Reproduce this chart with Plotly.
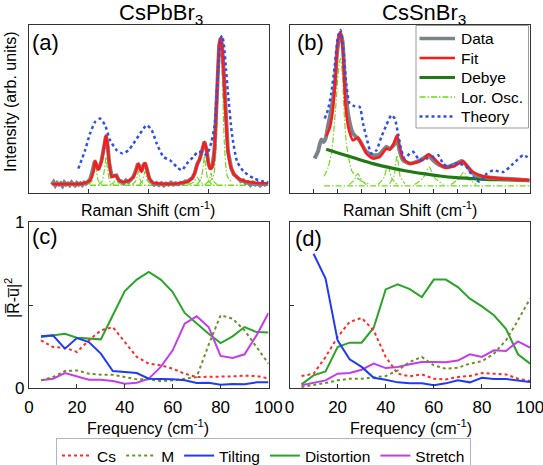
import plotly.graph_objects as go

FONT = "Arial, Liberation Sans, sans-serif"

# ---------------- data ----------------
# (a) CsPbBr3 Raman spectrum (Raman shift, normalised intensity)
pb_data = [(19, 0.05), (20.5, 0.065), (22, 0.045), (23.5, 0.06), (25, 0.05), (26.5, 0.058),
           (28, 0.042), (29.5, 0.062), (31, 0.05), (32.5, 0.057), (34, 0.047), (35.5, 0.063),
           (37, 0.052), (38.5, 0.045), (40, 0.06), (41.5, 0.05), (43, 0.058), (44.5, 0.048),
           (46, 0.062), (47.5, 0.055), (49, 0.065), (51, 0.08), (53, 0.13), (55, 0.19),
           (56.5, 0.16), (58, 0.14), (60.5, 0.19), (62.5, 0.27), (64.3, 0.34), (65.5, 0.29),
           (67, 0.18), (69, 0.1), (71, 0.1), (73, 0.105), (75, 0.075), (77, 0.07), (79, 0.058),
           (81, 0.075), (83, 0.065), (85, 0.08), (87, 0.095), (89, 0.13), (91, 0.175),
           (92.8, 0.145), (94, 0.13), (95.5, 0.165), (97, 0.178), (98.5, 0.14), (100.5, 0.085),
           (102.5, 0.065), (104.5, 0.05), (106.5, 0.06), (108.5, 0.048), (110.5, 0.058),
           (112.5, 0.045), (114.5, 0.056), (116.5, 0.05), (118.5, 0.062), (120.5, 0.05),
           (122.5, 0.058), (124.5, 0.052), (126.5, 0.06), (128.5, 0.058), (130.5, 0.07),
           (132.5, 0.068), (134.5, 0.08), (136.5, 0.09), (138.5, 0.12), (140.4, 0.17),
           (142.5, 0.2), (144.5, 0.25), (146.5, 0.305), (148.2, 0.26), (150, 0.17),
           (151.5, 0.143), (153.2, 0.16), (154.8, 0.25), (156.5, 0.5), (157.9, 0.76),
           (158.8, 0.88), (160, 0.92), (161, 0.89), (162, 0.8), (163.3, 0.6), (164.7, 0.405),
           (166.1, 0.25), (168.9, 0.147), (171, 0.11), (173, 0.1), (175, 0.085), (177, 0.07),
           (179, 0.075), (181, 0.06), (183, 0.065), (185, 0.048), (187, 0.062), (189, 0.05),
           (191, 0.058), (193, 0.045), (195, 0.06), (197, 0.05), (199, 0.057)]

pb_fit = [(19, 0.052), (30, 0.054), (45, 0.056), (51, 0.076), (53.8, 0.125), (55.2, 0.191),
          (56.5, 0.165), (57.9, 0.139), (60.7, 0.195), (62.7, 0.274), (64.3, 0.344),
          (65.5, 0.294), (67.1, 0.175), (69.1, 0.095), (70.8, 0.101), (72.7, 0.105),
          (74.7, 0.08), (77.4, 0.066), (83, 0.072), (87.2, 0.095), (90, 0.145), (91.4, 0.175),
          (92.8, 0.145), (93.9, 0.125), (95.5, 0.165), (96.9, 0.179), (98.3, 0.145),
          (100.6, 0.085), (103.9, 0.06), (109.5, 0.056), (117.8, 0.054), (126.2, 0.06),
          (131.8, 0.066), (135.9, 0.085), (138.5, 0.12), (140.4, 0.17), (142.5, 0.2),
          (144.5, 0.25), (146.5, 0.305), (148.2, 0.26), (150, 0.17), (151.5, 0.143),
          (153.2, 0.16), (154.8, 0.25), (156.5, 0.504), (157.9, 0.762), (158.8, 0.881),
          (160, 0.924), (161, 0.89), (162, 0.80), (163.3, 0.60), (164.7, 0.405), (166.1, 0.25),
          (168.9, 0.147), (173, 0.097), (180, 0.071), (190, 0.06), (200, 0.058)]

pb_theory = [(41.2, 0.145), (46.8, 0.254), (51.0, 0.354), (55.2, 0.423), (59.3, 0.443),
             (63.5, 0.404), (67.7, 0.314), (73.3, 0.254), (78.3, 0.235), (83.0, 0.254),
             (87.2, 0.294), (92.8, 0.354), (98.3, 0.404), (102.5, 0.374), (106.7, 0.294),
             (112.3, 0.215), (117.8, 0.195), (123.4, 0.155), (127.6, 0.135), (131.8, 0.175),
             (137.3, 0.215), (141, 0.245), (145, 0.24), (148.2, 0.226), (150.5, 0.26),
             (152.4, 0.305), (155.1, 0.405), (156.5, 0.56), (158.5, 0.80), (160.2, 0.92),
             (161.3, 0.936), (162.8, 0.88), (164.5, 0.74), (166.1, 0.60), (169.6, 0.345),
             (173.8, 0.187), (179.4, 0.127), (187.8, 0.087), (195, 0.07), (200, 0.062)]

pb_lor_base = [(51, 0.046), (200, 0.046)]
pb_lor = [
    [(50, 0.05), (52.5, 0.07), (54, 0.12), (55.2, 0.17), (56.5, 0.12), (58, 0.07), (61, 0.05)],
    [(58, 0.05), (61, 0.07), (63, 0.14), (64.3, 0.215), (65.6, 0.14), (67.5, 0.07), (71, 0.05)],
    [(68, 0.05), (71, 0.065), (72.5, 0.085), (74, 0.065), (77, 0.05)],
    [(86, 0.05), (89.5, 0.075), (91.4, 0.13), (93, 0.075), (96, 0.05)],
    [(92, 0.05), (95, 0.075), (96.9, 0.13), (98.7, 0.075), (102, 0.05)],
    [(133, 0.05), (137.5, 0.065), (140.4, 0.095), (143, 0.065), (147, 0.05)],
    [(140, 0.05), (143.5, 0.08), (145.5, 0.16), (146.5, 0.22), (147.5, 0.16), (149.5, 0.08), (153, 0.05)],
    [(147, 0.05), (150.5, 0.075), (152, 0.12), (153.5, 0.075), (157, 0.05)],
    [(150, 0.06), (154, 0.1), (156.5, 0.3), (158.3, 0.7), (159.8, 0.87), (161.3, 0.7), (163.1, 0.3), (165.6, 0.1), (170, 0.06)],
]

# (b) CsSnBr3 Raman spectrum
sn_data = [(26, 0.205), (29.5, 0.245), (33, 0.318), (35.4, 0.304), (37.5, 0.324), (39.9, 0.394),
           (43.4, 0.493), (46.9, 0.632), (49.7, 0.851), (53, 0.95), (55.2, 0.90), (57.3, 0.692),
           (60.8, 0.473), (66, 0.354), (71.2, 0.324), (74.7, 0.294), (79.9, 0.245), (86.8, 0.225),
           (93.8, 0.231), (100.7, 0.274), (104.2, 0.264), (109.4, 0.294), (111.8, 0.334),
           (113.9, 0.264), (118.1, 0.195), (125, 0.175), (131.9, 0.185), (138.9, 0.205),
           (144.1, 0.225), (149.3, 0.195), (156.3, 0.165), (163.2, 0.155), (173.6, 0.175),
           (178.8, 0.191), (184, 0.165), (191, 0.115), (201.4, 0.095), (225.7, 0.085),
           (249.3, 0.076)]

sn_fit = [(38.2, 0.338), (41.7, 0.384), (45.1, 0.493), (47.9, 0.692), (50.3, 0.911), (53.1, 0.96),
          (55.6, 0.831), (58.3, 0.513), (61.8, 0.374), (66.0, 0.314), (71.2, 0.330), (74.7, 0.294),
          (79.9, 0.235), (86.8, 0.205), (93.8, 0.215), (100.7, 0.264), (104.2, 0.258),
          (108.3, 0.294), (111.8, 0.344), (114.6, 0.274), (118.1, 0.205), (125.0, 0.175),
          (131.9, 0.181), (138.9, 0.199), (144.6, 0.23), (149.3, 0.211), (156.3, 0.171),
          (162, 0.15), (171.9, 0.161), (180.5, 0.19), (184.0, 0.165), (191.0, 0.125),
          (201.4, 0.099), (225.7, 0.083), (249.3, 0.076)]

sn_debye = [(38.2, 0.260), (52.1, 0.235), (69.4, 0.205), (86.8, 0.175), (104.2, 0.151),
            (121.5, 0.131), (138.9, 0.115), (156.3, 0.101), (173.6, 0.091), (191.0, 0.085),
            (208.3, 0.080), (225.7, 0.078), (249.3, 0.074)]

sn_theory = [(36.5, 0.443), (39.9, 0.493), (43.4, 0.592), (46.9, 0.751), (50.3, 0.930),
             (53.1, 0.970), (56.3, 0.831), (59.0, 0.652), (62.5, 0.533), (67.7, 0.517),
             (72.9, 0.513), (76.4, 0.414), (79.9, 0.334), (85.1, 0.235), (90.3, 0.254),
             (95.5, 0.334), (100.7, 0.404), (105.9, 0.463), (109.4, 0.443), (112.8, 0.354),
             (116.3, 0.254), (119.8, 0.205), (125.0, 0.235), (128.5, 0.245), (135.4, 0.195),
             (142.4, 0.205), (149.3, 0.215), (154.5, 0.225), (159.7, 0.175), (164.9, 0.155),
             (171.9, 0.175), (177.1, 0.175), (184.0, 0.155), (191.0, 0.095), (197.9, 0.066),
             (204.9, 0.115), (211.8, 0.135), (222.2, 0.125), (232.6, 0.175), (243.1, 0.225),
             (249.3, 0.205)]

sn_lor_base = [(36, 0.042), (250, 0.042)]
sn_lor = [
    [(36, 0.1), (40, 0.15), (44, 0.25), (47.9, 0.5), (51.4, 0.76), (53, 0.8), (54.8, 0.72),
     (56.6, 0.5), (59, 0.3), (61.8, 0.2), (65, 0.13), (68.7, 0.1), (75, 0.07), (82, 0.055)],
    [(62, 0.05), (67, 0.075), (71, 0.115), (75, 0.075), (80, 0.05)],
    [(92, 0.05), (98, 0.09), (102.4, 0.165), (106, 0.09), (112, 0.05)],
    [(104, 0.055), (108.5, 0.1), (111.8, 0.225), (115, 0.1), (120, 0.055)],
    [(130, 0.05), (139, 0.09), (145, 0.155), (151, 0.09), (160, 0.05)],
    [(168, 0.05), (176, 0.085), (181, 0.125), (186, 0.085), (194, 0.05)],
]

# (c) / (d) projections |R-u|^2 versus frequency
freq = [5, 10, 15, 20, 25, 30, 35, 40, 45, 50, 55, 60, 65, 70, 75, 80, 85, 90, 95, 100]
freq_tilt_d = [10, 15, 20, 25, 30, 35, 40, 45, 50, 55, 60, 65, 70, 75, 80, 85, 90, 95, 100]

cs_c = [0.287, 0.247, 0.243, 0.217, 0.287, 0.347, 0.367, 0.277, 0.187, 0.147,
        0.137, 0.116, 0.086, 0.066, 0.066, 0.070, 0.070, 0.074, 0.072, 0.058]
m_c = [0.046, 0.066, 0.102, 0.106, 0.086, 0.080, 0.080, 0.066, 0.052, 0.052,
       0.042, 0.046, 0.056, 0.066, 0.26, 0.438, 0.418, 0.347, 0.247, 0.147]
tilt_c = [0.311, 0.317, 0.237, 0.301, 0.277, 0.207, 0.102, 0.096, 0.090, 0.056,
          0.056, 0.052, 0.046, 0.030, 0.032, 0.020, 0.024, 0.022, 0.034, 0.034]
dist_c = [0.307, 0.315, 0.327, 0.303, 0.297, 0.293, 0.438, 0.584, 0.653, 0.699,
          0.653, 0.578, 0.452, 0.388, 0.327, 0.271, 0.311, 0.367, 0.337, 0.335]
str_c = [0.046, 0.056, 0.090, 0.070, 0.050, 0.050, 0.042, 0.026, 0.032, 0.056,
         0.127, 0.227, 0.388, 0.432, 0.367, 0.193, 0.181, 0.203, 0.317, 0.452]

cs_d = [0.072, 0.086, 0.187, 0.307, 0.398, 0.422, 0.347, 0.187, 0.086, 0.070,
        0.082, 0.056, 0.052, 0.066, 0.072, 0.090, 0.086, 0.082, 0.056, 0.042]
m_d = [0.006, 0.016, 0.030, 0.046, 0.056, 0.056, 0.066, 0.072, 0.106, 0.157,
       0.187, 0.137, 0.116, 0.122, 0.147, 0.161, 0.207, 0.287, 0.408, 0.538]
tilt_d = [0.809, 0.659, 0.287, 0.173, 0.127, 0.062, 0.050, 0.034, 0.028, 0.028,
          0.016, 0.028, 0.046, 0.034, 0.062, 0.054, 0.054, 0.044, 0.036]
dist_d = [0.022, 0.076, 0.100, 0.247, 0.273, 0.273, 0.363, 0.594, 0.624, 0.596,
          0.548, 0.653, 0.653, 0.608, 0.538, 0.492, 0.438, 0.357, 0.203, 0.147]
str_d = [0.016, 0.030, 0.046, 0.086, 0.090, 0.110, 0.147, 0.120, 0.127, 0.143,
         0.157, 0.157, 0.155, 0.165, 0.203, 0.187, 0.227, 0.223, 0.281, 0.243]

titles = ["CsPbBr<sub>3</sub>", "CsSnBr<sub>3</sub>"]
panel_labels = ["(a)", "(b)", "(c)", "(d)"]
spectrum_names = ["Data", "Fit", "Debye", "Lor. Osc.", "Theory"]
bottom_names = ["Cs", "M", "Tilting", "Distortion", "Stretch"]

# ---------------- styling ----------------
C_DATA = "#7a8388"
C_FIT = "#ff1a1a"
C_DEBYE = "#1f7a14"
C_LOR = "#72d81e"
C_THEORY = "#2f4fe8"
C_CS = "#ff2a2a"
C_M = "#6b8f2a"
C_TILT = "#1f3cf2"
C_DIST = "#2aa52a"
C_STR = "#c53cf0"

W, H = 543, 465


def px(x):
    return x / W


def py(y):
    return 1 - y / H


def xy(pairs):
    return [p[0] for p in pairs], [p[1] for p in pairs]


fig = go.Figure()


def add(pairs, xa, ya, color, width, dash="solid", name=None, legend=None,
        rank=None, show=False, spline=True):
    x, y = xy(pairs)
    fig.add_trace(go.Scatter(
        x=x, y=y, xaxis=xa, yaxis=ya, mode="lines",
        line=dict(color=color, width=width, dash=dash,
                  shape="spline" if spline else "linear", smoothing=0.6),
        name=name, showlegend=show, legend=legend,
        legendrank=rank if rank is not None else 1000,
        hoverinfo="skip"))


LOR_DASH = "6px,2px,1.5px,2px"

# panel (a)
add(pb_lor_base, "x", "y", C_LOR, 1.3, LOR_DASH)
for comp in pb_lor:
    add(comp, "x", "y", C_LOR, 1.2, LOR_DASH)
add(pb_data, "x", "y", C_DATA, 4, spline=False)
add(pb_fit, "x", "y", C_FIT, 2.6)
add(pb_theory, "x", "y", C_THEORY, 2.5, "dot")

# panel (b)
add(sn_lor_base, "x2", "y2", C_LOR, 1.3, LOR_DASH)
for comp in sn_lor:
    add(comp, "x2", "y2", C_LOR, 1.2, LOR_DASH)
add(sn_debye, "x2", "y2", C_DEBYE, 3.2)
add(sn_data, "x2", "y2", C_DATA, 4)
add(sn_fit, "x2", "y2", C_FIT, 2.6)
add(sn_theory, "x2", "y2", C_THEORY, 2.5, "dot")

# panels (c) and (d)
series_c = [cs_c, m_c, tilt_c, dist_c, str_c]
series_d = [cs_d, m_d, tilt_d, dist_d, str_d]
colors = [C_CS, C_M, C_TILT, C_DIST, C_STR]
dashes = ["3px,3px", "3px,3px", "solid", "solid", "solid"]
order = [3, 4, 0, 1, 2]  # drawing order
for i in order:
    add(list(zip(freq, series_c[i])), "x3", "y3", colors[i], 2, dashes[i],
        name=bottom_names[i], legend="legend", rank=i + 1, show=True, spline=False)
for i in order:
    fx = freq_tilt_d if i == 2 else freq
    add(list(zip(fx, series_d[i])), "x4", "y4", colors[i], 2, dashes[i], spline=False)

# ---------------- axes ----------------
AX = "#333333"
dom_xa = [px(29), px(268.5)]
dom_xb = [px(289.5), px(530)]
dom_top = [py(193), py(25)]
dom_bot = [py(388), py(222)]

common = dict(showline=True, mirror=True, linecolor=AX, linewidth=1.2, showgrid=False,
              zeroline=False, ticks="inside", tickcolor=AX, ticklen=4,
              ticklabeloverflow="allow",
              tickfont=dict(family=FONT, size=17, color="black"))

fig.update_layout(
    xaxis=dict(common, domain=dom_xa, range=[0, 200], tickvals=[50, 100, 150],
               showticklabels=False, anchor="y"),
    yaxis=dict(common, domain=dom_top, range=[0, 1], ticks="", showticklabels=False,
               anchor="x"),
    xaxis2=dict(common, domain=dom_xb, range=[0, 250],
                tickvals=[25, 50, 75, 100, 125, 150, 175, 200, 225],
                showticklabels=False, anchor="y2"),
    yaxis2=dict(common, domain=dom_top, range=[0, 1], ticks="", showticklabels=False,
                anchor="x2"),
    xaxis3=dict(common, domain=dom_xa, range=[0, 100], tickvals=[0, 20, 40, 60, 80, 100],
                anchor="y3", ticklabelstandoff=3),
    yaxis3=dict(common, domain=dom_bot, range=[0, 1], tickvals=[0, 0.5, 1],
                ticktext=["0", "", "1"], anchor="x3"),
    xaxis4=dict(common, domain=dom_xb, range=[0, 100], tickvals=[0, 20, 40, 60, 80, 100],
                anchor="y4", ticklabelstandoff=3),
    yaxis4=dict(common, domain=dom_bot, range=[0, 1], tickvals=[0, 0.5, 1],
                showticklabels=False, anchor="x4"),
)

# ---------------- text ----------------
ann = []


def text(t, x, y, size, angle=0, anchor="center"):
    ann.append(dict(text=t, x=px(x), y=py(y), xref="paper", yref="paper",
                    showarrow=False, xanchor=anchor, yanchor="middle",
                    textangle=angle, font=dict(family=FONT, size=size, color="black")))


text(titles[0], 161, 14, 22)
text(titles[1], 424, 14, 22)
text(panel_labels[0], 45.5, 42.5, 22)
text(panel_labels[1], 310.5, 42.5, 22)
text(panel_labels[2], 44.5, 237, 22)
text(panel_labels[3], 308, 238, 22)
text("Raman Shift (cm<sup>-1</sup>)", 148, 209, 16)
text("Raman Shift (cm<sup>-1</sup>)", 410, 209, 16)
text("Frequency (cm<sup>-1</sup>)", 148, 427, 16)
text("Frequency (cm<sup>-1</sup>)", 411, 427, 16)
text("Intensity (arb. units)", 10, 102, 16, -90)
text("|R\u0305-u\u0305|<sup>2</sup>", 12, 298, 16, -90)

# legend box of panel (b): key samples + labels
shapes = [dict(type="rect", xref="paper", yref="paper", x0=px(416), x1=px(528.5),
               y0=py(128), y1=py(25.5), fillcolor="white",
               line=dict(color="#9a9a9a", width=1), layer="above")]
key_styles = [(C_DATA, 3.5, "solid"), (C_FIT, 2.6, "solid"), (C_DEBYE, 3.2, "solid"),
              (C_LOR, 1.3, LOR_DASH), (C_THEORY, 2.5, "dot")]
for k, (name, (col, wid, dsh)) in enumerate(zip(spectrum_names, key_styles)):
    yk = 38.5 + k * 19.5
    shapes.append(dict(type="line", xref="paper", yref="paper", x0=px(419.5), x1=px(455),
                       y0=py(yk), y1=py(yk), line=dict(color=col, width=wid, dash=dsh),
                       layer="above"))
    text(name, 459, yk, 15.5, anchor="left")

fig.update_layout(
    annotations=ann, shapes=shapes,
    width=W, height=H, autosize=False,
    margin=dict(l=0, r=0, t=0, b=0, autoexpand=False),
    paper_bgcolor="white", plot_bgcolor="white",
    font=dict(family=FONT, color="black"),
    legend=dict(x=px(56), y=py(438), xanchor="left", yanchor="top",
                orientation="h", bgcolor="white", bordercolor="#b0b4c0", borderwidth=1,
                font=dict(family=FONT, size=15.5, color="black"),
                itemwidth=30),
)

fig.write_html("out.html", config={"displayModeBar": False},
               post_script="document.body.style.margin='0';"
                           "document.body.style.overflow='hidden';")
